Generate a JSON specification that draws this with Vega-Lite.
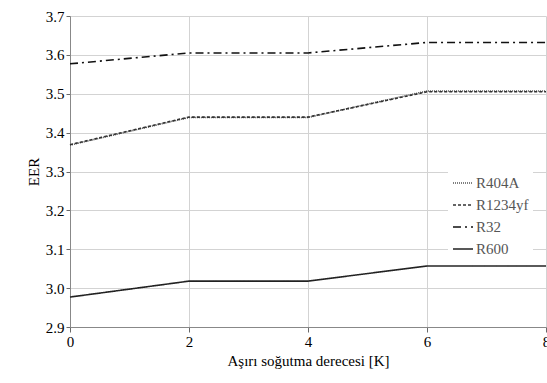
{
  "$schema": "https://vega.github.io/schema/vega-lite/v6.json",
  "width": 476,
  "height": 311,
  "autosize": {"type": "none"},
  "padding": {"left": 70, "top": 16, "right": 1, "bottom": 56},
  "background": "white",
  "data": {
    "values": [
      {"k": 0, "ref": "R404A", "eer": 3.368},
      {"k": 2, "ref": "R404A", "eer": 3.439},
      {"k": 4, "ref": "R404A", "eer": 3.439},
      {"k": 6, "ref": "R404A", "eer": 3.507},
      {"k": 8, "ref": "R404A", "eer": 3.507},
      {"k": 0, "ref": "R1234yf", "eer": 3.369},
      {"k": 2, "ref": "R1234yf", "eer": 3.440},
      {"k": 4, "ref": "R1234yf", "eer": 3.440},
      {"k": 6, "ref": "R1234yf", "eer": 3.505},
      {"k": 8, "ref": "R1234yf", "eer": 3.505},
      {"k": 0, "ref": "R32", "eer": 3.577},
      {"k": 2, "ref": "R32", "eer": 3.605},
      {"k": 4, "ref": "R32", "eer": 3.605},
      {"k": 6, "ref": "R32", "eer": 3.632},
      {"k": 8, "ref": "R32", "eer": 3.632},
      {"k": 0, "ref": "R600", "eer": 2.977},
      {"k": 2, "ref": "R600", "eer": 3.018},
      {"k": 4, "ref": "R600", "eer": 3.018},
      {"k": 6, "ref": "R600", "eer": 3.057},
      {"k": 8, "ref": "R600", "eer": 3.057}
    ]
  },
  "mark": {"type": "line", "clip": false, "strokeWidth": 1.6},
  "encoding": {
    "x": {
      "field": "k",
      "type": "quantitative",
      "scale": {"domain": [0, 8], "nice": false},
      "axis": {
        "title": "Aşırı soğutma derecesi [K]",
        "values": [0, 2, 4, 6, 8],
        "grid": true,
        "gridColor": "lightgray",
        "tickSize": 5,
        "tickColor": "dimgray",
        "labelFont": "Liberation Serif",
        "labelFontSize": 15,
        "labelFlush": false,
        "titleFont": "Liberation Serif",
        "titleFontSize": 15,
        "titleFontWeight": "normal"
      }
    },
    "y": {
      "field": "eer",
      "type": "quantitative",
      "scale": {"domain": [2.9, 3.7], "nice": false, "zero": false},
      "axis": {
        "title": "EER",
        "values": [2.9, 3, 3.1, 3.2, 3.3, 3.4, 3.5, 3.6, 3.7],
        "grid": true,
        "gridColor": "lightgray",
        "tickSize": 4,
        "tickColor": "dimgray",
        "labelFont": "Liberation Serif",
        "labelFontSize": 15,
        "titleFont": "Liberation Serif",
        "titleFontSize": 15,
        "titleFontWeight": "normal"
      }
    },
    "color": {
      "field": "ref",
      "type": "nominal",
      "scale": {"domain": ["R404A", "R1234yf", "R32", "R600"], "range": ["#555555", "#333333", "#111111", "#222222"]},
      "legend": {
        "title": null,
        "orient": "none",
        "legendX": 378,
        "legendY": 152,
        "fillColor": "white",
        "padding": 4,
        "symbolType": "stroke",
        "symbolSize": 400,
        "symbolStrokeWidth": 1.6,
        "labelFont": "Liberation Serif",
        "labelFontSize": 15,
        "labelColor": "#555555",
        "labelOffset": 2,
        "rowPadding": 3
      }
    },
    "strokeDash": {
      "field": "ref",
      "type": "nominal",
      "scale": {"domain": ["R404A", "R1234yf", "R32", "R600"], "range": [[1, 1], [3, 2], [8, 4, 2, 4], [1, 0]]}
    }
  },
  "config": {
    "view": {"stroke": null}
  }
}
